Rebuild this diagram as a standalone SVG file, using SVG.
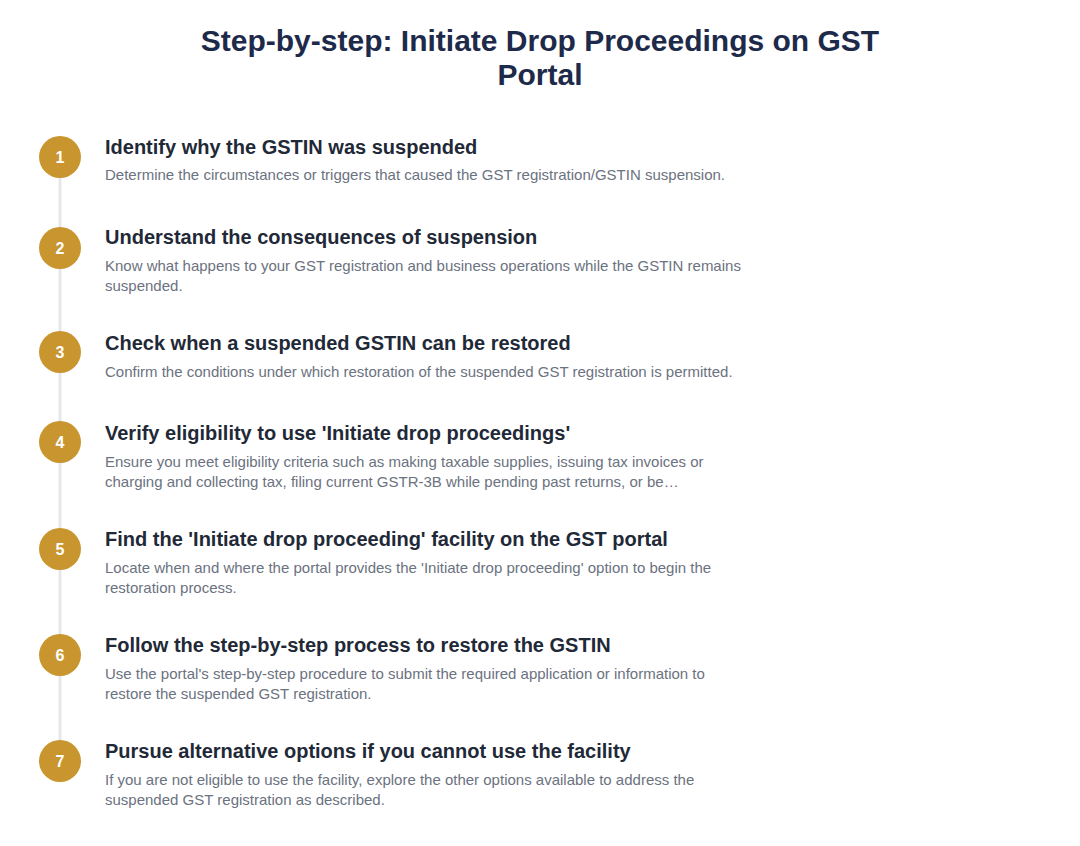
<svg xmlns="http://www.w3.org/2000/svg" width="1080" height="846" viewBox="0 0 1080 846">
<style>
.title{font-family:"Liberation Sans",Arial,sans-serif;font-weight:bold;font-size:30px;fill:#1e2a4a;text-anchor:middle}
.h{font-family:"Liberation Sans",Arial,sans-serif;font-weight:bold;font-size:20px;fill:#1f2937}
.d{font-family:"Liberation Sans",Arial,sans-serif;font-size:15px;fill:#6b7280}
.c{fill:#c9952f}
.n{font-family:"Liberation Sans",Arial,sans-serif;font-weight:bold;font-size:16px;fill:#ffffff;text-anchor:middle}
</style>
<rect width="1080" height="846" fill="#ffffff"/>
<text class="title" x="540" y="51">Step-by-step: Initiate Drop Proceedings on GST</text>
<text class="title" x="540" y="85">Portal</text>
<g id="connectors">
<line x1="60" y1="157" x2="60" y2="761" stroke="#e5e7eb" stroke-width="3"/>
</g>
<g id="step1"><circle class="c" cx="60" cy="157" r="21"/><text class="n" x="60" y="163">1</text>
<text class="h" x="105" y="154">Identify why the GSTIN was suspended</text>
<text class="d" x="105" y="180">Determine the circumstances or triggers that caused the GST registration/GSTIN suspension.</text></g>
<g id="step2"><circle class="c" cx="60" cy="248" r="21"/><text class="n" x="60" y="254">2</text>
<text class="h" x="105" y="244">Understand the consequences of suspension</text>
<text class="d" x="105" y="271">Know what happens to your GST registration and business operations while the GSTIN remains</text>
<text class="d" x="105" y="291">suspended.</text></g>
<g id="step3"><circle class="c" cx="60" cy="352" r="21"/><text class="n" x="60" y="358">3</text>
<text class="h" x="105" y="350">Check when a suspended GSTIN can be restored</text>
<text class="d" x="105" y="377">Confirm the conditions under which restoration of the suspended GST registration is permitted.</text></g>
<g id="step4"><circle class="c" cx="60" cy="442" r="21"/><text class="n" x="60" y="448">4</text>
<text class="h" x="105" y="440">Verify eligibility to use 'Initiate drop proceedings'</text>
<text class="d" x="105" y="467">Ensure you meet eligibility criteria such as making taxable supplies, issuing tax invoices or</text>
<text class="d" x="105" y="487">charging and collecting tax, filing current GSTR-3B while pending past returns, or be…</text></g>
<g id="step5"><circle class="c" cx="60" cy="549" r="21"/><text class="n" x="60" y="555">5</text>
<text class="h" x="105" y="546">Find the 'Initiate drop proceeding' facility on the GST portal</text>
<text class="d" x="105" y="573">Locate when and where the portal provides the 'Initiate drop proceeding' option to begin the</text>
<text class="d" x="105" y="593">restoration process.</text></g>
<g id="step6"><circle class="c" cx="60" cy="655" r="21"/><text class="n" x="60" y="661">6</text>
<text class="h" x="105" y="652">Follow the step-by-step process to restore the GSTIN</text>
<text class="d" x="105" y="679">Use the portal's step-by-step procedure to submit the required application or information to</text>
<text class="d" x="105" y="699">restore the suspended GST registration.</text></g>
<g id="step7"><circle class="c" cx="60" cy="761" r="21"/><text class="n" x="60" y="767">7</text>
<text class="h" x="105" y="758">Pursue alternative options if you cannot use the facility</text>
<text class="d" x="105" y="785">If you are not eligible to use the facility, explore the other options available to address the</text>
<text class="d" x="105" y="805">suspended GST registration as described.</text></g>
</svg>
